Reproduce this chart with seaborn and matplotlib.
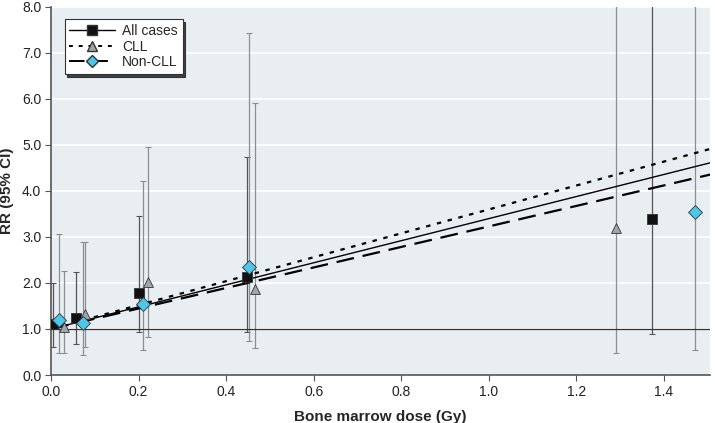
import numpy as np
import pandas as pd
import seaborn as sns
import matplotlib.pyplot as plt

# point estimates and 95% CI
all_dose = [0.005, 0.057, 0.200, 0.448, 1.373]
all_rr = [1.10, 1.24, 1.79, 2.12, 3.39]
all_lo = [0.60, 0.67, 0.93, 0.93, 0.90]
all_hi = [2.00, 2.25, 3.45, 4.73, 9.0]

cll_dose = [0.030, 0.077, 0.222, 0.467, 1.290]
cll_rr = [1.05, 1.32, 2.03, 1.86, 3.20]
cll_lo = [0.47, 0.60, 0.83, 0.58, 0.48]
cll_hi = [2.27, 2.90, 4.95, 5.92, 9.0]

ncll_dose = [0.018, 0.073, 0.210, 0.452, 1.470]
ncll_rr = [1.20, 1.12, 1.54, 2.35, 3.55]
ncll_lo = [0.47, 0.44, 0.55, 0.75, 0.55]
ncll_hi = [3.07, 2.90, 4.22, 7.43, 9.0]

# excess relative risk per Gy for the fitted linear models
slopes = {'All cases': 2.40, 'CLL': 2.60, 'Non-CLL': 2.23}

sns.set_style('ticks')
plt.rcParams['font.family'] = ['Liberation Sans', 'DejaVu Sans']

fig = plt.figure(figsize=(7.15, 4.23), dpi=100)
ax = fig.add_axes([51 / 715, 48 / 423, 659 / 715, 368 / 423])
ax.set_facecolor('#e9eef3')
for y in range(1, 9):
    ax.axhline(y, color='white', lw=1.2, zorder=0)

groups = [
    ('All cases', all_dose, all_rr, all_lo, all_hi, '#555555', 's', '#111111', '-'),
    ('CLL', cll_dose, cll_rr, cll_lo, cll_hi, '#8a8f94', '^', '#a0a5aa', (0, (2, 3))),
    ('Non-CLL', ncll_dose, ncll_rr, ncll_lo, ncll_hi, '#8a8f94', 'D', '#4cc6ea', (0, (8, 4))),
]

grid = np.array([0.0, 1.52])
for name, d, rr, lo, hi, ecol, mk, fc, ls in groups:
    rr = np.array(rr)
    err = [rr - np.array(lo), np.array(hi) - rr]
    ax.errorbar(d, rr, yerr=err, fmt='none', ecolor=ecol, elinewidth=0.9,
                capsize=2.2, capthick=0.8, zorder=2)
    fit = pd.DataFrame({'dose': grid, 'rr': 1 + slopes[name] * grid})
    sns.lineplot(data=fit, x='dose', y='rr', ax=ax, color='black',
                 lw=1.6 if name != 'All cases' else 1.0, linestyle=ls, zorder=3)
    pts = pd.DataFrame({'dose': d, 'rr': rr})
    sns.scatterplot(data=pts, x='dose', y='rr', ax=ax, marker=mk, color=fc,
                    edgecolor='#333333', linewidth=0.6, s=50, zorder=4)
    ax.plot([], [], color='black', linestyle=ls, lw=1.0 if name == 'All cases' else 1.4,
            marker=mk, markerfacecolor=fc, markeredgecolor='#333333',
            markersize=6.5, label=name)

ax.axhline(1.0, color='#333333', lw=0.9, zorder=2.5)

ax.set_xlim(0, 1.505)
ax.set_ylim(0, 8)
ax.set_xticks(np.arange(0, 1.41, 0.2))
ax.set_xticklabels([f'{v:.1f}' for v in np.arange(0, 1.41, 0.2)])
ax.set_yticks(np.arange(0, 8.1, 1))
ax.set_yticklabels([f'{v:.1f}' for v in np.arange(0, 8.1, 1)])
ax.tick_params(labelsize=10, length=4, color='#555555', labelcolor='#222222', pad=3)
for s in ['top', 'right']:
    ax.spines[s].set_visible(False)
for s in ['left', 'bottom']:
    ax.spines[s].set_color('#555555')
    ax.spines[s].set_linewidth(1.2)

ax.set_xlabel('Bone marrow dose (Gy)', fontsize=11, fontweight='bold', labelpad=8)
ax.set_ylabel('RR (95% CI)', fontsize=11, fontweight='bold', labelpad=6)

leg = ax.legend(loc='upper left', bbox_to_anchor=(0.01, 0.985), fontsize=10,
                handlelength=3.3, frameon=True, fancybox=False,
                shadow={'color': '#222222', 'alpha': 0.85},
                borderpad=0.35, labelspacing=0.1, handletextpad=0.5)
leg.get_frame().set_edgecolor('#333333')
leg.get_frame().set_linewidth(0.8)
leg.get_frame().set_alpha(1)

fig.savefig('out.png', dpi=100)
